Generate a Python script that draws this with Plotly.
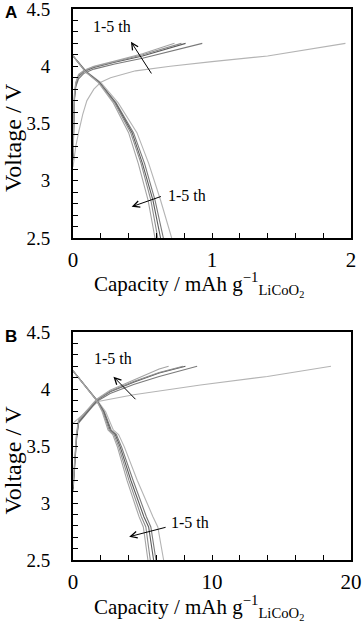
import plotly.graph_objects as go

# ---------------- Panel A data (capacity in mAh g-1, voltage in V) ----------------
a_chg_x1 = [0, 0.01, 0.02, 0.04, 0.07, 0.10, 0.15, 0.20, 0.27, 0.45, 0.70, 1.00, 1.40, 1.96]
a_chg_v1 = [3.12, 3.22, 3.30, 3.42, 3.58, 3.70, 3.80, 3.86, 3.90, 3.96, 4.00, 4.04, 4.09, 4.20]
a_chg_x2 = [0, 0.004, 0.01, 0.02, 0.04, 0.08, 0.15, 0.30, 0.50, 0.93]
a_chg_v2 = [3.18, 3.50, 3.70, 3.82, 3.89, 3.94, 3.975, 4.02, 4.07, 4.20]
a_chg_x3 = [0, 0.004, 0.01, 0.02, 0.04, 0.08, 0.15, 0.30, 0.50, 0.81]
a_chg_v3 = [3.20, 3.52, 3.72, 3.84, 3.91, 3.955, 3.99, 4.035, 4.09, 4.20]
a_chg_x4 = [0, 0.004, 0.01, 0.02, 0.04, 0.08, 0.15, 0.30, 0.50, 0.78]
a_chg_v4 = [3.22, 3.54, 3.74, 3.85, 3.92, 3.96, 3.995, 4.04, 4.10, 4.20]
a_chg_x5 = [0, 0.004, 0.01, 0.02, 0.04, 0.08, 0.15, 0.30, 0.50, 0.73]
a_chg_v5 = [3.24, 3.56, 3.76, 3.86, 3.93, 3.965, 4.00, 4.045, 4.11, 4.20]

a_dis_v = [4.09, 3.95, 3.86, 3.68, 3.42, 3.15, 2.83, 2.50]
a_dis_x1 = [0, 0.10, 0.20, 0.325, 0.460, 0.545, 0.630, 0.710]
a_dis_x2 = [0, 0.095, 0.19, 0.310, 0.435, 0.515, 0.590, 0.650]
a_dis_x3 = [0, 0.095, 0.19, 0.305, 0.425, 0.500, 0.575, 0.630]
a_dis_x4 = [0, 0.090, 0.185, 0.300, 0.415, 0.490, 0.560, 0.610]
a_dis_x5 = [0, 0.090, 0.180, 0.290, 0.400, 0.470, 0.540, 0.590]

# ---------------- Panel B data ----------------
b_chg_x1 = [0, 1.8, 4.36, 9.17, 13.98, 18.56]
b_chg_v1 = [3.70, 3.89, 3.95, 4.035, 4.11, 4.20]
b_chg_x2 = [0, 0.10, 0.25, 0.40, 1.70, 2.67, 4.36, 6.20, 8.93]
b_chg_v2 = [3.10, 3.30, 3.55, 3.70, 3.89, 3.96, 4.04, 4.11, 4.20]
b_chg_x3 = [0, 0.10, 0.25, 0.40, 1.70, 2.67, 4.36, 6.20, 8.09]
b_chg_v3 = [3.12, 3.32, 3.57, 3.71, 3.90, 3.975, 4.06, 4.14, 4.20]
b_chg_x4 = [0, 0.10, 0.25, 0.40, 1.70, 2.67, 4.36, 6.20, 7.92]
b_chg_v4 = [3.14, 3.34, 3.59, 3.72, 3.905, 3.98, 4.065, 4.145, 4.20]
b_chg_x5 = [0, 0.10, 0.25, 0.40, 1.70, 2.67, 4.36, 6.20, 6.88]
b_chg_v5 = [3.16, 3.36, 3.61, 3.73, 3.91, 3.99, 4.08, 4.175, 4.20]

b_dis_v = [4.16, 3.90, 3.80, 3.64, 3.60, 3.49, 3.20, 3.03, 2.88, 2.79, 2.50]
b_dis_x1 = [0, 1.75, 2.35, 2.90, 3.28, 3.70, 4.62, 5.20, 5.75, 6.10, 6.52]
b_dis_x2 = [0, 1.72, 2.25, 2.75, 3.12, 3.50, 4.32, 4.82, 5.28, 5.60, 5.97]
b_dis_x3 = [0, 1.71, 2.20, 2.68, 3.04, 3.40, 4.16, 4.64, 5.10, 5.44, 5.80]
b_dis_x4 = [0, 1.70, 2.15, 2.60, 2.95, 3.30, 4.02, 4.48, 4.92, 5.24, 5.56]
b_dis_x5 = [0, 1.69, 2.10, 2.52, 2.86, 3.20, 3.88, 4.32, 4.75, 5.06, 5.39]

cycle_colors = ["#b4b4b4", "#7a7a7a", "#5c5c5c", "#8c8c8c", "#a4a4a4"]

y_ticks = [2.5, 3, 3.5, 4, 4.5]
y_ticktext = ["2.5", "3", "3.5", "4", "4.5"]
a_x_ticks = [0, 1, 2]
a_x_ticktext = ["0", "1", "2"]
b_x_ticks = [0, 10, 20]
b_x_ticktext = ["0", "10", "20"]

arrow_label = "1-5 th"
y_title = "Voltage / V"
x_title = "Capacity / mAh g<sup>−1</sup><sub>LiCoO<sub>2</sub></sub>"

fig = go.Figure()

a_chg = [(a_chg_x1, a_chg_v1), (a_chg_x2, a_chg_v2), (a_chg_x3, a_chg_v3), (a_chg_x4, a_chg_v4), (a_chg_x5, a_chg_v5)]
a_dis = [a_dis_x1, a_dis_x2, a_dis_x3, a_dis_x4, a_dis_x5]
b_chg = [(b_chg_x1, b_chg_v1), (b_chg_x2, b_chg_v2), (b_chg_x3, b_chg_v3), (b_chg_x4, b_chg_v4), (b_chg_x5, b_chg_v5)]
b_dis = [b_dis_x1, b_dis_x2, b_dis_x3, b_dis_x4, b_dis_x5]

for i, (xs, vs) in enumerate(a_chg):
    fig.add_trace(go.Scatter(x=xs, y=vs, mode="lines", xaxis="x", yaxis="y",
                             line=dict(color=cycle_colors[i], width=1.1), showlegend=False))
for i, xs in enumerate(a_dis):
    fig.add_trace(go.Scatter(x=xs, y=a_dis_v, mode="lines", xaxis="x", yaxis="y",
                             line=dict(color=cycle_colors[i], width=1.1), showlegend=False))
for i, (xs, vs) in enumerate(b_chg):
    fig.add_trace(go.Scatter(x=xs, y=vs, mode="lines", xaxis="x2", yaxis="y2",
                             line=dict(color=cycle_colors[i], width=1.1), showlegend=False))
for i, xs in enumerate(b_dis):
    fig.add_trace(go.Scatter(x=xs, y=b_dis_v, mode="lines", xaxis="x2", yaxis="y2",
                             line=dict(color=cycle_colors[i], width=1.1), showlegend=False))

W, H = 362, 630
L, R = 73, 351
A_top, A_bot = 9, 238
B_top, B_bot = 332, 560

serif = "Liberation Serif"

def xax(rng, tv, tt, dt_minor, anchor):
    return dict(domain=[L / W, R / W], range=rng, anchor=anchor, automargin=False,
                tickvals=tv, ticktext=tt, ticks="inside", ticklen=5, tickwidth=1, tickcolor="black",
                minor=dict(dtick=dt_minor, ticks="inside", ticklen=5, tickwidth=1, tickcolor="black"),
                showline=True, linecolor="black", linewidth=2, mirror=True,
                showgrid=False, zeroline=False, ticklabelstandoff=2, ticklabeloverflow="allow",
                tickfont=dict(family=serif, size=21, color="black"))

def yax(top, bot, anchor):
    return dict(domain=[1 - bot / H, 1 - top / H], range=[2.5, 4.5], anchor=anchor, automargin=False,
                tickvals=y_ticks, ticktext=y_ticktext, ticks="inside", ticklen=5, tickwidth=1, tickcolor="black",
                minor=dict(dtick=0.1, ticks="inside", ticklen=5, tickwidth=1, tickcolor="black"),
                showline=True, linecolor="black", linewidth=2, mirror=True,
                showgrid=False, zeroline=False, ticklabelstandoff=17, ticklabeloverflow="allow",
                tickfont=dict(family=serif, size=19, color="black"))

fig.update_layout(
    template="none",
    width=W, height=H, margin=dict(l=0, r=0, t=0, b=0, autoexpand=False),
    paper_bgcolor="white", plot_bgcolor="white",
    font=dict(family=serif, color="black"),
    xaxis=xax([0, 2], a_x_ticks, a_x_ticktext, 0.2, "y"),
    yaxis=yax(A_top, A_bot, "x"),
    xaxis2=xax([0, 20], b_x_ticks, b_x_ticktext, 2, "y2"),
    yaxis2=yax(B_top, B_bot, "x2"),
)

arrow_style = dict(showarrow=True, arrowhead=5, arrowsize=1.3, arrowwidth=1, arrowcolor="black", text="")
lab_font = dict(family=serif, size=16, color="black")

ann = []
# arrows and labels, panel A
ann.append(dict(x=0.417, y=4.214, ax=0.571, ay=3.924, xref="x", yref="y", axref="x", ayref="y", **arrow_style))
ann.append(dict(x=0.277, y=4.343, xref="x", yref="y", text=arrow_label, showarrow=False, font=lab_font))
ann.append(dict(x=0.422, y=2.773, ax=0.643, ay=2.867, xref="x", yref="y", axref="x", ayref="y", **arrow_style))
ann.append(dict(x=0.817, y=2.867, xref="x", yref="y", text=arrow_label, showarrow=False, font=lab_font))
# panel B
ann.append(dict(x=2.91, y=4.108, ax=4.6, ay=3.897, xref="x2", yref="y2", axref="x2", ayref="y2", **arrow_style))
ann.append(dict(x=2.85, y=4.27, xref="x2", yref="y2", text=arrow_label, showarrow=False, font=lab_font))
ann.append(dict(x=4.04, y=2.704, ax=6.77, ay=2.79, xref="x2", yref="y2", axref="x2", ayref="y2", **arrow_style))
ann.append(dict(x=8.45, y=2.825, xref="x2", yref="y2", text=arrow_label, showarrow=False, font=lab_font))

# axis titles and panel letters
for top, bot, lab, ly in [(A_top, A_bot, "A", 12), (B_top, B_bot, "B", 336)]:
    ann.append(dict(x=12.5 / W, y=1 - ((top + bot) / 2 + 14) / H, xref="paper", yref="paper",
                    text=y_title, textangle=-90, showarrow=False, xanchor="center", yanchor="middle",
                    font=dict(family=serif, size=24, color="black")))
    ann.append(dict(x=199 / W, y=1 - (bot + 47) / H, xref="paper", yref="paper",
                    text=x_title, showarrow=False, xanchor="center", yanchor="middle",
                    font=dict(family=serif, size=21, color="black")))
    ann.append(dict(x=3 / W, y=1 - ly / H, xref="paper", yref="paper", text="<b>" + lab + "</b>",
                    showarrow=False, xanchor="left", yanchor="middle",
                    font=dict(family="Liberation Sans", size=17, color="black")))

fig.update_layout(annotations=ann)
fig.write_html("out.html", config={"displayModeBar": False},
               post_script="document.body.style.margin='0';document.body.style.overflow='hidden';")
